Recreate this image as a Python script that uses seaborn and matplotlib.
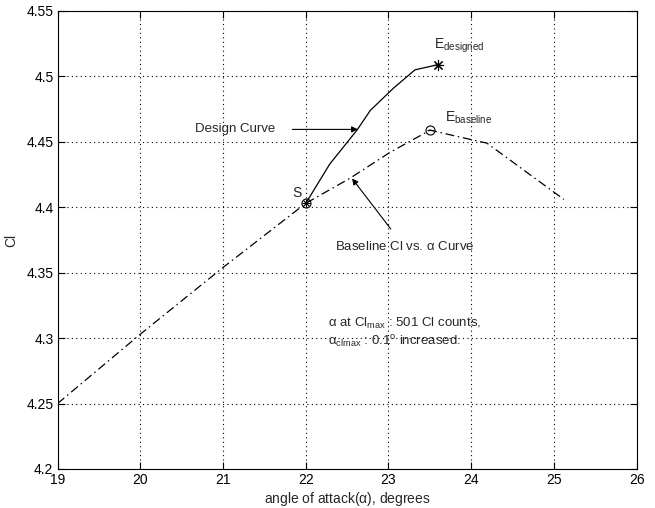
import matplotlib
matplotlib.use("Agg")
import matplotlib.pyplot as plt
import seaborn as sns
import pandas as pd

# Baseline lift coefficient vs angle of attack
baseline_alpha = [19.0, 20.0, 21.0, 22.0, 22.53, 23.02, 23.42, 23.5, 23.7, 24.19, 25.12]
baseline_cl = [4.25, 4.303, 4.354, 4.403, 4.422, 4.442, 4.456, 4.459, 4.456, 4.449, 4.406]

# Design curve from the start point S to the designed end point
design_alpha = [22.0, 22.29, 22.62, 22.78, 23.06, 23.32, 23.6]
design_cl = [4.403, 4.433, 4.459, 4.474, 4.491, 4.505, 4.509]

# Key points
s_point = (22.0, 4.403)
e_baseline = (23.5, 4.459)
e_designed = (23.6, 4.509)

x_ticks = [19, 20, 21, 22, 23, 24, 25, 26]
y_ticks = [4.2, 4.25, 4.3, 4.35, 4.4, 4.45, 4.5, 4.55]
y_tick_labels = ["4.2", "4.25", "4.3", "4.35", "4.4", "4.45", "4.5", "4.55"]

sns.set_theme(style="ticks")
plt.rcParams["font.family"] = ["Liberation Sans", "DejaVu Sans"]
plt.rcParams["mathtext.fontset"] = "custom"
plt.rcParams["mathtext.rm"] = "Liberation Sans"
plt.rcParams["mathtext.it"] = "Liberation Sans"

fig = plt.figure(figsize=(6.55, 5.08), dpi=100)
ax = fig.add_axes([0.0879, 0.0768, 0.8841, 0.9016])

base_df = pd.DataFrame({"alpha": baseline_alpha, "cl": baseline_cl})
design_df = pd.DataFrame({"alpha": design_alpha, "cl": design_cl})

sns.lineplot(data=base_df, x="alpha", y="cl", ax=ax, color="black",
             linewidth=0.9, linestyle=(0, (7, 3, 1.2, 3)), sort=False)
sns.lineplot(data=design_df, x="alpha", y="cl", ax=ax, color="black",
             linewidth=0.9, sort=False)

# Markers
ax.plot(*s_point, marker="o", ms=6.5, mfc="none", mec="black", mew=0.8)
ax.plot(*s_point, marker=(8, 2, 0), ms=5.5, color="black", mew=0.6)
ax.plot(*e_baseline, marker="o", ms=6.5, mfc="none", mec="black", mew=0.8)
ax.plot(*e_baseline, marker="_", ms=5, color="black", mew=0.8)
ax.plot(*e_designed, marker=(8, 2, 0), ms=8, color="black", mew=0.8)

fs = 9.5
ax.text(21.89, 4.411, "S", fontsize=fs + 0.5, ha="center", va="center")
ax.text(23.55, 4.5237, r"E$_{\mathrm{designed}}$", fontsize=fs + 0.5, ha="left", va="center")
ax.text(23.68, 4.468, r"E$_{\mathrm{baseline}}$", fontsize=fs + 0.5, ha="left", va="center")

ax.annotate("Design Curve", xy=(22.63, 4.4595), xytext=(21.63, 4.4595),
            fontsize=fs, ha="right", va="center",
            arrowprops=dict(arrowstyle="-|>", color="black", lw=0.8,
                            mutation_scale=9, shrinkA=10, shrinkB=0))
ax.annotate(r"Baseline Cl vs. $\alpha$ Curve", xy=(22.56, 4.422),
            xytext=(23.19, 4.370), fontsize=fs, ha="center", va="center",
            arrowprops=dict(arrowstyle="-|>", color="black", lw=0.8,
                            mutation_scale=9, shrinkA=7, shrinkB=0))

ax.text(22.27, 4.311, r"$\alpha$ at Cl$_{\mathrm{max}}$ : 501 Cl counts,",
        fontsize=fs, ha="left", va="center")
ax.text(22.27, 4.297, r"$\alpha_{\mathrm{clmax}}$ : 0.1$^{\mathrm{o}}$ increased.",
        fontsize=fs, ha="left", va="center")

ax.set_xlim(19, 26)
ax.set_ylim(4.2, 4.55)
ax.set_xticks(x_ticks)
ax.set_yticks(y_ticks)
ax.set_yticklabels(y_tick_labels)
ax.set_xlabel("angle of attack(" + r"$\alpha$" + "), degrees", fontsize=fs + 0.5, labelpad=2)
ax.set_ylabel("Cl", fontsize=fs + 0.5)
ax.yaxis.set_label_coords(-0.068, 0.5)

ax.grid(True, color="black", linestyle=(0, (1, 3)), linewidth=0.8)
ax.tick_params(direction="in", length=5, width=0.8, top=True, right=True,
               labelsize=fs + 0.5, pad=3, colors="black")
for sp in ax.spines.values():
    sp.set_visible(True)
    sp.set_color("black")
    sp.set_linewidth(0.8)

fig.savefig("out.png", dpi=100, facecolor="white")
